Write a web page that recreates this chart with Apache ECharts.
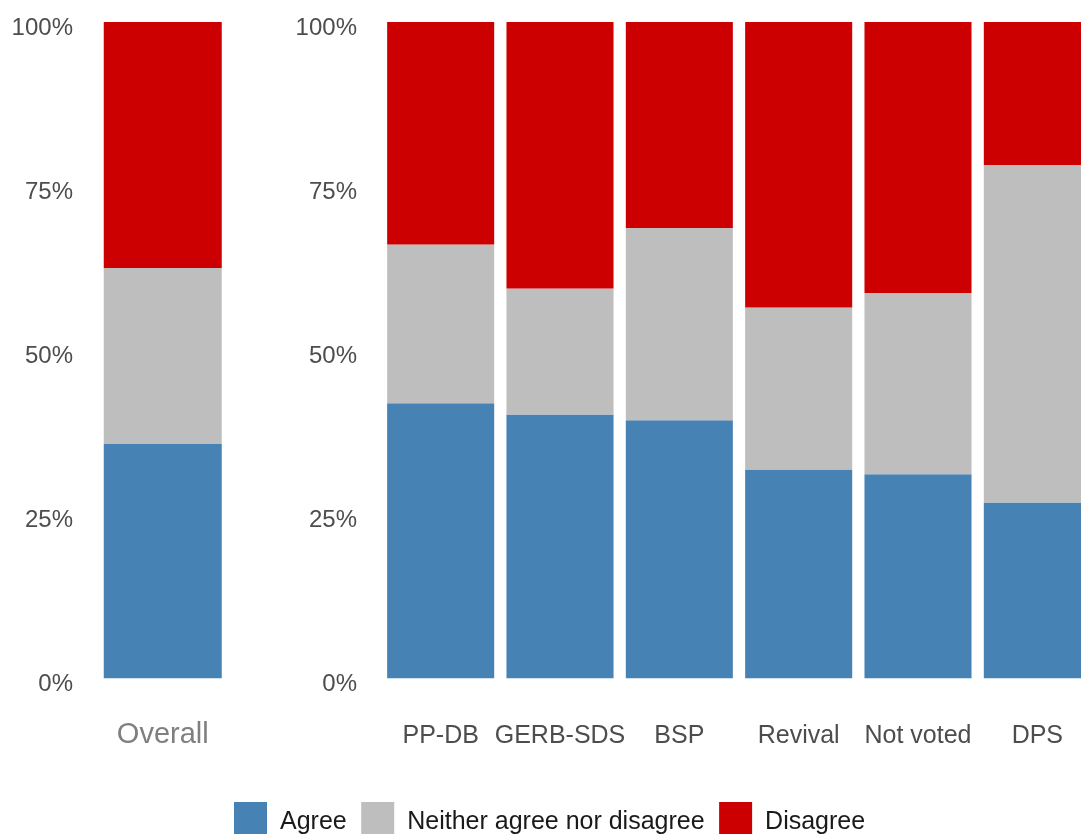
<!DOCTYPE html>
<html>
<head>
<meta charset="utf-8">
<script src="https://cdn.jsdelivr.net/npm/echarts@6/dist/echarts.min.js"></script>
<style>
  html, body { margin: 0; padding: 0; background: #fff; }
  #chart { width: 1081px; height: 834px; }
</style>
</head>
<body>
<div id="chart"></div>
<script>
// values, percent of respondents
var overallCats = ['Overall'];
var overallAgree = [35.7];
var overallNeither = [26.8];
var overallDisagree = [37.5];

var partyCats = ['PP-DB', 'GERB-SDS', 'BSP', 'Revival', 'Not voted', 'DPS'];
var partyAgree = [41.9, 40.2, 39.3, 31.8, 31.1, 26.8];
var partyNeither = [24.2, 19.2, 29.3, 24.7, 27.6, 51.4];
var partyDisagree = [33.9, 40.6, 31.4, 43.5, 41.3, 21.8];

var yTicks = [0, 25, 50, 75, 100];

var seriesNames = ['Agree', 'Neither agree nor disagree', 'Disagree'];
var colors = ['#4682B4', '#BEBEBE', '#CC0000'];

var font = 'Liberation Sans, Arial, sans-serif';

function yAxisFor(idx) {
  return {
    type: 'value',
    gridIndex: idx,
    min: 0,
    max: 100,
    interval: 25,
    axisLine: { show: false },
    axisTick: { show: false },
    splitLine: { show: false },
    axisLabel: {
      margin: 24,
      color: '#4D4D4D',
      fontSize: 24,
      fontFamily: font,
      verticalAlign: 'top',
      lineHeight: 12,
      formatter: function (v) { return yTicks.indexOf(v) >= 0 ? v + '%' : ''; }
    }
  };
}

function barSeries(name, data, axisIdx, color, width) {
  var s = {
    name: name,
    type: 'bar',
    stack: 'tot' + axisIdx,
    xAxisIndex: axisIdx,
    yAxisIndex: axisIdx,
    data: data,
    itemStyle: { color: color },
    emphasis: { disabled: true }
  };
  if (width) s.barWidth = width;
  else s.barCategoryGap = '10.3%';
  return s;
}

var chart = echarts.init(document.getElementById('chart'));
chart.setOption({
  animation: false,
  backgroundColor: '#fff',
  grid: [
    { left: 97, top: 22, width: 131.5, height: 656.3, outerBoundsMode: 'none' },
    { left: 381, top: 22, width: 716, height: 656.3, outerBoundsMode: 'none' }
  ],
  legend: {
    data: seriesNames,
    left: 234,
    top: 802,
    padding: 0,
    itemWidth: 33,
    itemHeight: 40,
    itemGap: 14.5,
    icon: 'rect',
    textStyle: {
      color: '#1A1A1A',
      fontSize: 25,
      fontFamily: font,
      padding: [0, 0, 0, 8]
    }
  },
  xAxis: [
    {
      type: 'category',
      gridIndex: 0,
      data: overallCats,
      axisLine: { show: false },
      axisTick: { show: false },
      axisLabel: { margin: 42, color: '#7F7F7F', fontSize: 29, fontFamily: font }
    },
    {
      type: 'category',
      gridIndex: 1,
      data: partyCats,
      axisLine: { show: false },
      axisTick: { show: false },
      axisLabel: { margin: 45, color: '#4D4D4D', fontSize: 25, fontFamily: font, interval: 0 }
    }
  ],
  yAxis: [yAxisFor(0), yAxisFor(1)],
  series: [
    barSeries(seriesNames[0], overallAgree, 0, colors[0], 118),
    barSeries(seriesNames[1], overallNeither, 0, colors[1], 118),
    barSeries(seriesNames[2], overallDisagree, 0, colors[2], 118),
    barSeries(seriesNames[0], partyAgree, 1, colors[0]),
    barSeries(seriesNames[1], partyNeither, 1, colors[1]),
    barSeries(seriesNames[2], partyDisagree, 1, colors[2])
  ]
});
</script>
</body>
</html>
